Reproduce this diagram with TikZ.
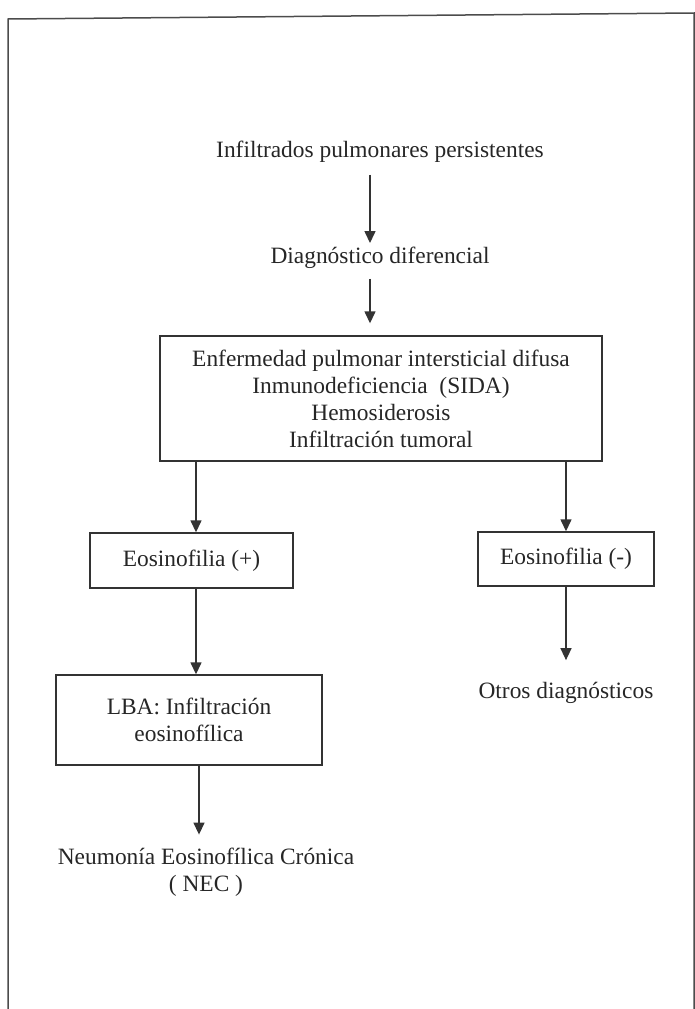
\documentclass[tikz,border=0pt]{standalone}
\usepackage{fontspec}
\setmainfont{Liberation Serif}
\usetikzlibrary{arrows.meta}

\begin{document}
\begin{tikzpicture}[x=1pt,y=-1pt,
    txt/.style={font=\fontsize{23.4}{27}\selectfont,align=center,inner sep=0pt,text=black!85},
    box/.style={txt,draw=black!80,line width=1.4pt},
    arr/.style={-{Triangle[length=12pt,width=11pt]},line width=1.4pt,draw=black!80,fill=black!80}
  ]
  \useasboundingbox (0,0) rectangle (695,1009);
  % frame
  \draw[line width=1.5pt,black!70] (8,1009) -- (8,19) -- (694,13) -- (694,1009);

  % top
  \node[txt] (infil) at (380,152) {Infiltrados pulmonares persistentes};
  \node[txt] (diag) at (380,258) {Diagnóstico diferencial};
  \node[box,minimum width=442pt,minimum height=125pt] (dd) at (381,398.5)
    {Enfermedad pulmonar intersticial difusa\\Inmunodeficiencia~~(SIDA)\\Hemosiderosis\\Infiltración tumoral};
  \coordinate (mid) at (370,0);
  \coordinate (lft) at (196,0);
  \draw[arr,shorten <=12pt,shorten >=4pt] (infil.south -| mid) -- (diag.north -| mid);
  \draw[arr,shorten <=10pt,shorten >=12pt] (diag.south -| mid) -- (dd.north -| mid);

  % left
  \node[box,minimum width=203pt,minimum height=55pt] (eosp) at (191.5,560.5) {Eosinofilia (+)};
  \node[box,minimum width=266pt,minimum height=90pt] (lba) at (189,720) {LBA: Infiltración\\eosinofílica};
  \node[txt] (nec) at (206,872) {Neumonía Eosinofílica Crónica\\( NEC )};
  \draw[arr] (dd.south -| lft) -- (eosp.north -| lft);
  \draw[arr] (eosp.south -| lft) -- (lba.north -| lft);
  \draw[arr,shorten >=13pt] ([xshift=3pt]lba.south -| lft) -- ([xshift=3pt]nec.north -| lft);

  % right
  \node[box,minimum width=176pt,minimum height=54pt] (eosn) at (566,559) {Eosinofilia (-)};
  \node[txt] (otros) at (566,693) {Otros diagnósticos};
  \draw[arr] (dd.south -| eosn) -- (eosn.north);
  \draw[arr,shorten >=22pt] (eosn.south) -- (otros.north);
\end{tikzpicture}
\end{document}
